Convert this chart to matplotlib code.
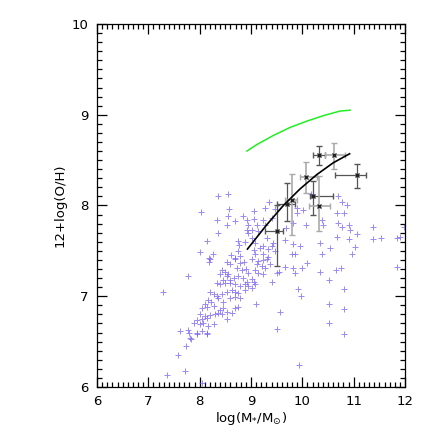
import matplotlib
matplotlib.use("Agg")
import matplotlib.pyplot as plt
import numpy as np

# galaxy sample (purple crosses)
mass = [8.36, 8.56, 8.03, 8.58, 8.34, 8.56, 8.69, 8.53, 8.85, 8.93,
        8.35, 8.15, 8.01, 8.25, 8.19, 8.75, 8.77, 8.88, 8.95, 8.92,
        8.94, 8.61, 8.69, 8.75, 8.79,
        10.16, 10.70, 10.77, 10.86, 9.35, 9.05, 9.27, 9.47, 9.89, 10.01,
        9.90, 10.67, 10.81, 10.69, 10.77, 10.90, 10.93, 11.06, 10.38, 10.41,
        10.08, 9.82, 9.68, 9.24, 9.40, 9.05, 9.11, 9.27, 9.14, 9.01,
        9.01, 9.08, 9.31, 9.43, 9.24, 9.34, 9.40, 9.66, 9.82, 9.95,
        10.34, 10.54, 10.67, 10.90, 11.03, 11.37, 11.38, 11.53, 11.85, 11.90,
        11.98, 9.79, 9.86, 10.38, 10.96, 9.05, 9.18, 9.08, 9.24, 9.34, 9.47,
        9.01, 9.14, 9.24, 9.31, 9.11, 9.21, 9.27, 9.37, 9.08, 9.14,
        9.24, 9.01, 9.05, 9.08, 9.01, 9.40, 9.50, 9.55, 9.66, 9.82,
        9.86, 9.99, 10.09, 10.34, 10.66, 10.75, 11.84, 10.52, 10.82, 9.91,
        9.97, 9.09, 9.57, 10.52, 10.82, 10.52, 9.51, 10.82, 9.93,
        8.20, 8.19, 7.78, 7.28, 8.53, 8.59, 8.69, 8.79, 8.86, 8.72,
        8.82, 8.90, 8.95, 8.43, 8.49, 8.56, 8.40, 8.46, 8.53, 8.59,
        8.66, 8.75, 8.85, 8.92, 8.33, 8.40, 8.49, 8.59, 8.69, 8.79,
        8.88, 8.95, 8.20, 8.27, 8.33, 8.43, 8.53, 8.62, 8.69, 8.75,
        8.88, 8.17, 8.23, 8.10, 8.36, 8.46, 8.59, 8.69, 8.79, 8.04,
        8.15, 8.27, 8.40, 8.46, 8.53, 8.62, 8.69, 8.75, 8.01, 8.10,
        8.20, 8.30, 8.36, 8.43, 8.53, 7.94, 8.04, 8.14, 7.89, 8.01,
        8.07, 8.17, 8.27, 8.04, 7.94, 8.14, 7.78, 7.79, 7.62, 7.81,
        7.83, 7.73, 7.57, 7.71, 7.36, 8.04, 7.94, 8.14]
oh = [8.11, 8.13, 7.93, 7.96, 7.84, 7.88, 7.83, 7.79, 7.88, 7.84,
      7.70, 7.61, 7.49, 7.46, 7.42, 7.61, 7.57, 7.60, 7.70, 7.73,
      7.78, 7.45, 7.42, 7.50, 7.44,
      8.13, 8.11, 8.04, 8.01, 8.04, 7.94, 7.97, 7.96, 7.97, 7.95,
      7.92, 7.92, 7.92, 7.81, 7.76, 7.78, 7.73, 7.69, 7.84, 7.78,
      7.79, 7.81, 7.75, 7.84, 7.86, 7.85, 7.79, 7.78, 7.72, 7.73,
      7.64, 7.59, 7.64, 7.59, 7.55, 7.52, 7.55, 7.62, 7.58, 7.55,
      7.59, 7.53, 7.65, 7.63, 7.54, 7.76, 7.63, 7.64, 7.64, 7.65,
      7.76, 7.46, 7.46, 7.47, 7.46, 7.51, 7.53, 7.46, 7.46, 7.43, 7.50,
      7.41, 7.39, 7.40, 7.41, 7.35, 7.33, 7.31, 7.35, 7.29, 7.26,
      7.25, 7.19, 7.16, 7.13, 7.09, 7.16, 7.26, 7.27, 7.32, 7.31,
      7.26, 7.31, 7.37, 7.27, 7.29, 7.31, 7.32, 7.18, 7.08, 7.08,
      7.00, 6.92, 6.83, 6.92, 6.86, 6.71, 6.64, 6.58, 6.24,
      7.41, 7.38, 7.22, 7.05, 7.38, 7.35, 7.41, 7.37, 7.38, 7.31,
      7.29, 7.30, 7.26, 7.29, 7.27, 7.24, 7.24, 7.18, 7.22, 7.18,
      7.20, 7.22, 7.20, 7.16, 7.15, 7.13, 7.15, 7.15, 7.13, 7.11,
      7.13, 7.11, 7.05, 7.02, 7.00, 7.02, 7.05, 7.07, 7.05, 7.04,
      7.07, 6.96, 6.94, 6.91, 6.98, 6.94, 6.98, 6.99, 6.98, 6.87,
      6.88, 6.89, 6.85, 6.87, 6.83, 6.81, 6.87, 6.88, 6.80, 6.78,
      6.79, 6.80, 6.81, 6.80, 6.75, 6.74, 6.75, 6.76, 6.70, 6.69,
      6.70, 6.67, 6.69, 6.62, 6.58, 6.58, 6.63, 6.60, 6.62, 6.54,
      6.53, 6.45, 6.35, 6.18, 6.13, 6.04, 6.59, 6.59]

# binned points with error bars
bx = [9.51, 9.71, 9.79, 10.08, 10.21, 10.33, 10.33, 10.62, 11.06]
by = [7.72, 8.02, 8.06, 8.31, 8.10, 7.99, 8.56, 8.56, 8.34]
bx_lo = [9.28, 9.50, 9.66, 9.95, 10.15, 10.12, 10.21, 10.44, 10.64]
bx_hi = [9.63, 9.86, 9.89, 10.28, 10.60, 10.54, 10.44, 10.83, 11.24]
by_lo = [7.33, 7.83, 7.67, 8.14, 7.90, 7.72, 8.45, 8.40, 8.19]
by_hi = [8.01, 8.25, 8.35, 8.48, 8.27, 8.32, 8.66, 8.69, 8.46]
bcol = ['#555555', '#555555', '#aaaaaa', '#aaaaaa', '#555555', '#aaaaaa', '#555555', '#aaaaaa', '#555555']

# fit (black) and reference relation (green)
fit_x = [8.93, 9.31, 9.63, 9.95, 10.28, 10.60, 10.92]
fit_y = [7.52, 7.79, 8.00, 8.18, 8.34, 8.47, 8.57]
ref_x = [8.92, 9.11, 9.43, 9.76, 10.09, 10.41, 10.73, 10.93]
ref_y = [8.60, 8.67, 8.77, 8.86, 8.93, 8.99, 9.04, 9.05]

fig = plt.figure(figsize=(4.36, 4.36), dpi=100)
ax = fig.add_axes([0.2225, 0.1124, 0.7065, 0.8326])

ax.plot(mass, oh, linestyle='none', marker='+', color='#7458f0', markersize=4, markeredgewidth=0.7, alpha=0.7)

for i in range(len(bx)):
    ax.errorbar(bx[i], by[i],
                xerr=[[bx[i] - bx_lo[i]], [bx_hi[i] - bx[i]]],
                yerr=[[by[i] - by_lo[i]], [by_hi[i] - by[i]]],
                fmt='x', color='#222222', ecolor=bcol[i], elinewidth=1.2 if bcol[i] == '#aaaaaa' else 0.9,
                capsize=2, markersize=3, markeredgewidth=1)

ax.plot(fit_x, fit_y, color='black', linewidth=1.2)
ax.plot(ref_x, ref_y, color='#22ee22', linewidth=1.1)

ax.set_xlim(6, 12)
ax.set_ylim(6, 10)
ax.set_xticks([6, 7, 8, 9, 10, 11, 12])
ax.set_yticks([6, 7, 8, 9, 10])
ax.set_xticks(np.arange(6, 12.01, 0.1), minor=True)
ax.set_yticks(np.arange(6, 10.01, 0.1), minor=True)
ax.tick_params(which='both', direction='in', top=True, right=True, labelsize=9.5, width=0.9)
ax.tick_params(which='major', length=7, pad=6)
ax.tick_params(which='minor', length=3.5)
for s in ax.spines.values():
    s.set_linewidth(0.9)

ax.set_xlabel(r'log(M$_{*}$/M$_{\odot}$)', fontsize=9.5, labelpad=1)
ax.set_ylabel('12+log(O/H)', fontsize=9.5, labelpad=4)

plt.savefig('out.png', dpi=100)
